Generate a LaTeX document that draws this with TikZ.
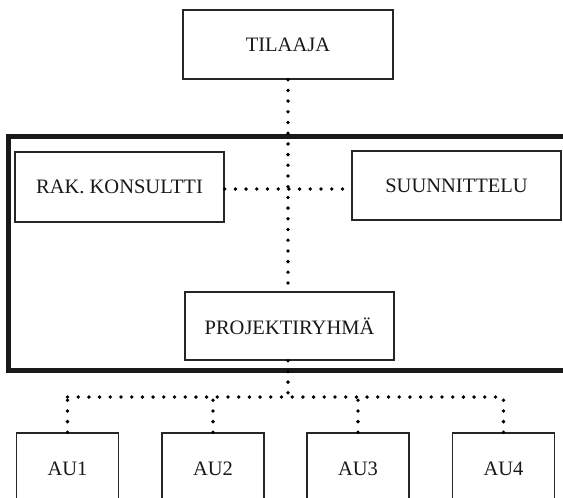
\documentclass[tikz,border=0pt]{standalone}
\usepackage{fontspec}
\setmainfont{Liberation Serif}
\begin{document}
\begin{tikzpicture}[x=1pt,y=-1pt,
  orgbox/.style={draw=black!85, line width=1.4pt, fill=white, inner sep=0pt,
    font=\fontsize{20.5}{24}\selectfont, text=black!90},
  dotline/.style={line width=3.8pt, line cap=round, dash pattern=on 0pt off 10.7pt, black},
  frame/.style={line width=5pt, black!90}]
\useasboundingbox (0,0) rectangle (563,498);
\clip (0,0) rectangle (563,498);
% big frame
\draw[frame] (8.5,136.5) rectangle (570,370);
% nodes
\node[orgbox, minimum width=210pt, minimum height=69pt] (til) at (288,44.5) {TILAAJA};
\node[orgbox, minimum width=209pt, minimum height=70pt] (rak) at (119.5,187) {RAK. KONSULTTI};
\node[orgbox, minimum width=209pt, minimum height=69pt] (suun) at (456.5,185.5) {SUUNNITTELU};
\node[orgbox, minimum width=209pt, minimum height=68pt] (proj) at (289.5,326) {PROJEKTIRYHMÄ};
\node[orgbox, minimum width=102pt, minimum height=72pt] (au1) at (67.5,469) {AU1};
\node[orgbox, minimum width=102pt, minimum height=72pt] (au2) at (213,469) {AU2};
\node[orgbox, minimum width=102pt, minimum height=72pt] (au3) at (358,469) {AU3};
\node[orgbox, minimum width=102pt, minimum height=72pt] (au4) at (503.5,469) {AU4};
\coordinate (hub) at (288,397);
\coordinate (cross) at (288,189);
% connectors
\draw[dotline] (til.south) -- (til.south |- proj.north);
\draw[dotline] (rak.east |- cross) -- (suun.west |- cross);
\draw[dotline] (proj.south -| hub) -- (hub);
\draw[dotline] (au1.north |- hub) -- (au4.north |- hub);
\draw[dotline] (au1.north) -- (au1.north |- hub);
\draw[dotline] (au2.north) -- (au2.north |- hub);
\draw[dotline] (au3.north) -- (au3.north |- hub);
\draw[dotline] (au4.north) -- (au4.north |- hub);
\end{tikzpicture}
\end{document}
